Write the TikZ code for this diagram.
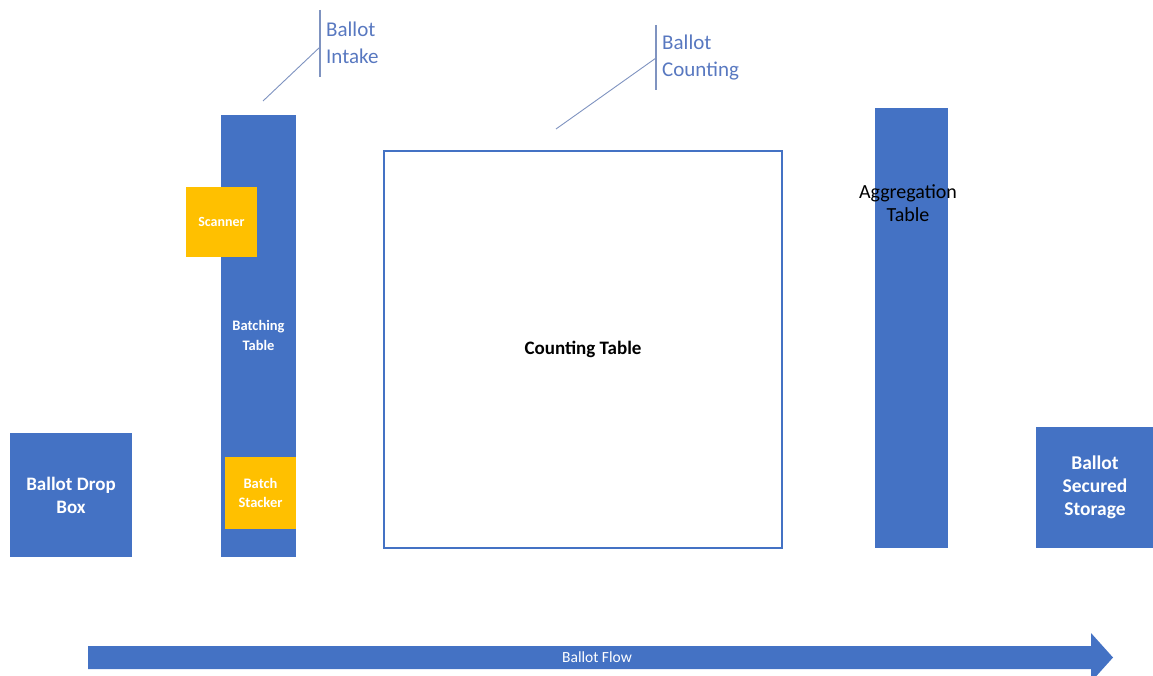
\documentclass[tikz,border=0pt]{standalone}
\usepackage{fontspec}
\setmainfont{Carlito}
\definecolor{officeblue}{HTML}{4472C4}
\definecolor{officegold}{HTML}{FFC000}
\definecolor{calloutline}{HTML}{7F93C0}
\definecolor{callouttext}{HTML}{5878C0}
\begin{document}
\begin{tikzpicture}[x=1pt,y=-1pt,
  bluebox/.style={fill=officeblue, draw=none, inner sep=0pt, text=white, align=center, font=\bfseries},
  goldbox/.style={fill=officegold, draw=none, inner sep=0pt, text=white, align=center, font=\bfseries},
  calloutbar/.style={draw=calloutline, line width=1.2pt},
  calloutleader/.style={draw=calloutline, line width=0.9pt},
  callouttxt/.style={text=callouttext, anchor=west, align=left, inner sep=0pt, font=\fontsize{21}{27}\selectfont}]
\useasboundingbox (0,0) rectangle (1153,676);

% Ballot drop box
\node[bluebox, minimum width=122pt, minimum height=124pt, font=\bfseries\fontsize{19}{23}\selectfont]
  (drop) at (71,495) {Ballot Drop\\Box};

% Batching table with scanner and stacker
\node[bluebox, minimum width=75pt, minimum height=442pt] (batch) at (258.5,336) {};
\node[text=white, align=center, font=\bfseries\fontsize{14.5}{20}\selectfont] (batchlbl) at (258.5,335) {Batching\\Table};
\node[goldbox, minimum width=71pt, minimum height=70pt, font=\bfseries\fontsize{14}{14}\selectfont] (scanner) at (221.5,222) {Scanner};
\node[goldbox, minimum width=71pt, minimum height=72pt, font=\bfseries\fontsize{14.5}{19}\selectfont] (stacker) at (260.5,493) {Batch\\Stacker};

% Counting table
\node[draw=officeblue, line width=2.5pt, fill=white, minimum width=398pt, minimum height=397pt,
  font=\bfseries\fontsize{19}{22}\selectfont, inner sep=0pt] (count) at (583,349.5) {Counting Table};

% Aggregation table
\node[bluebox, minimum width=73pt, minimum height=440pt] (agg) at (911.5,328) {};
\node[text=black, align=center, inner sep=0pt, font=\fontsize{20}{23}\selectfont] (agglbl) at (908,203) {Aggregation\\Table};

% Secured storage
\node[bluebox, minimum width=118pt, minimum height=121pt, font=\bfseries\fontsize{19.5}{23}\selectfont]
  (store) at (1095,487.5) {Ballot\\Secured\\Storage};

% Callout: intake
\coordinate (inTop) at (320,10);
\coordinate (inBot) at (320,77);
\coordinate (inKnee) at (320,47);
\coordinate (inTip) at (263,101);
\draw[calloutbar] (inTop) -- (inBot);
\draw[calloutleader] (inTip) -- (inKnee);
\node[callouttxt] (intake) at (326,43) {Ballot\\Intake};

% Callout: counting
\coordinate (ctTop) at (656,25);
\coordinate (ctBot) at (656,90);
\coordinate (ctKnee) at (656,58);
\coordinate (ctTip) at (556,129);
\draw[calloutbar] (ctTop) -- (ctBot);
\draw[calloutleader] (ctTip) -- (ctKnee);
\node[callouttxt] (counting) at (662,58) {Ballot\\Counting};

% Flow arrow
\fill[officeblue] (88,646) -- (1091,646) -- (1091,633) -- (1113,657.5) -- (1091,682) -- (1091,669) -- (88,669) -- cycle;
\node[text=white, inner sep=0pt, font=\fontsize{15.5}{17}\selectfont] (flow) at (597,657.5) {Ballot Flow};
\end{tikzpicture}
\end{document}
